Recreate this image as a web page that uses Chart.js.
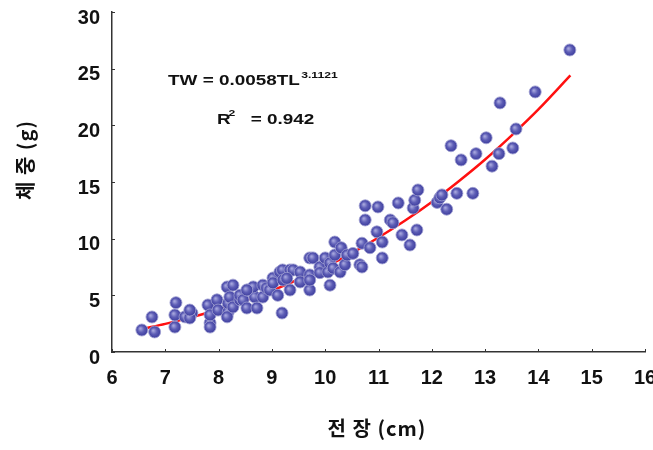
<!DOCTYPE html>
<html>
<head>
<meta charset="utf-8">
<script src="https://cdn.jsdelivr.net/npm/chart.js@4/dist/chart.umd.min.js"></script>
<style>
html,body{margin:0;padding:0;background:#fff;}
#wrap{width:653px;height:450px;position:relative;}
</style>
</head>
<body>
<div id="wrap"><canvas id="c" width="653" height="450"></canvas></div>
<script>
// ---- data ----
const lengthCm = [6.56,6.80,6.75,7.18,7.18,7.20,7.37,7.50,7.46,7.46,7.80,7.84,7.84,7.84,7.97,7.99,8.18,8.16,8.18,8.16,8.27,8.21,8.27,8.40,8.40,8.46,8.55,8.53,8.68,8.72,8.65,8.53,8.83,8.83,8.90,8.96,9.02,9.02,9.11,9.15,9.20,9.21,9.19,9.34,9.34,9.40,9.28,9.53,9.53,9.71,9.71,9.71,9.71,9.77,9.90,9.90,10.00,10.05,10.09,10.09,10.15,10.18,10.18,10.28,10.30,10.37,10.41,10.52,10.65,10.69,10.69,10.75,10.75,10.84,10.97,10.99,11.07,11.07,11.22,11.27,11.37,11.44,11.59,11.65,11.68,11.72,11.74,12.10,12.15,12.19,12.28,12.36,12.47,12.55,12.77,12.83,13.02,13.13,13.26,13.28,13.52,13.58,13.94,14.59];
const weightG  = [1.94,1.77,3.09,2.20,3.27,4.35,3.10,3.44,3.00,3.70,4.15,2.56,3.27,2.20,4.60,3.70,3.53,3.10,4.30,5.74,5.90,4.85,3.97,4.60,5.00,4.60,5.47,3.88,4.85,3.88,5.74,5.47,5.90,4.85,5.65,5.47,6.53,6.10,5.00,7.06,7.24,6.35,3.44,5.47,7.24,7.24,6.50,7.06,6.18,6.80,5.47,8.30,6.35,8.30,7.50,7.00,8.30,7.06,7.85,5.90,7.40,8.56,9.70,7.06,9.20,7.70,8.56,8.70,7.70,9.60,7.50,11.65,12.90,9.20,10.60,12.80,9.70,8.30,11.65,11.40,13.15,10.33,9.44,12.70,13.40,10.77,14.30,13.20,13.60,13.86,12.60,18.20,14.00,16.95,14.00,17.50,18.90,16.40,17.50,21.98,18.00,19.68,22.95,26.65];
const fitLength = [6.6,7.0,7.5,8.0,8.5,9.0,9.5,10.0,10.5,11.0,11.5,12.0,12.5,13.0,13.5,14.0,14.6];
const fitWeight = [2.06,2.48,3.08,3.75,4.53,5.41,6.40,7.51,8.73,10.10,11.60,13.24,15.05,16.99,19.12,21.40,24.40];
const xTicks = [6,7,8,9,10,11,12,13,14,15,16];
const yTicks = [0,5,10,15,20,25,30];
const xTitle = '전 장 (cm)';
const yTitle = '체 중 (g)';
const eqMain = 'TW = 0.0058TL';
const eqExp = '3.1121';
const r2Main = 'R';
const r2Sup = '2';
const r2Value = '= 0.942';

const points = lengthCm.map((x,i)=>({x:x,y:weightG[i]}));
const fitLine = fitLength.map((x,i)=>({x:x,y:fitWeight[i]}));

function pointFill(ctx){
  const chart = ctx.chart;
  const fallback = '#5050a8';
  if(!ctx.parsed || !chart.scales || !chart.scales.x || !chart.scales.y) return fallback;
  const px = chart.scales.x.getPixelForValue(ctx.parsed.x);
  const py = chart.scales.y.getPixelForValue(ctx.parsed.y);
  if(!isFinite(px) || !isFinite(py)) return fallback;
  const g = chart.ctx.createRadialGradient(px-1.5,py-1.5,0.5,px,py,6.5);
  g.addColorStop(0,'#a4a4dc');
  g.addColorStop(0.45,'#5e5eb6');
  g.addColorStop(1,'#38389a');
  return g;
}

const decor = {
  id:'decor',
  beforeDatasetsDraw(chart){
    const c = chart.ctx, xs = chart.scales.x, ys = chart.scales.y;
    c.save();
    c.strokeStyle = '#333';
    c.lineWidth = 1;
    xTicks.forEach(v=>{
      const p = Math.round(xs.getPixelForValue(v))+0.5;
      c.beginPath(); c.moveTo(p, ys.bottom); c.lineTo(p, ys.bottom-3); c.stroke();
    });
    yTicks.forEach(v=>{
      const p = Math.round(ys.getPixelForValue(v))+0.5;
      c.beginPath(); c.moveTo(xs.left, p); c.lineTo(xs.left+3, p); c.stroke();
    });
    c.restore();
  },
  afterDraw(chart){
    const c = chart.ctx;
    c.save();
    c.fillStyle = '#111';
    c.textBaseline = 'alphabetic';
    c.textAlign = 'left';
    c.save();
    c.translate(168, 85);
    c.scale(1.35,1);
    c.font = 'bold 14px "Liberation Sans", Arial, sans-serif';
    c.fillText(eqMain, 0, 0);
    const w = c.measureText(eqMain).width;
    c.font = 'bold 9px "Liberation Sans", Arial, sans-serif';
    c.fillText(eqExp, w+1, -7);
    c.restore();
    c.save();
    c.translate(217, 124);
    c.scale(1.35,1);
    c.font = 'bold 14px "Liberation Sans", Arial, sans-serif';
    c.fillText(r2Main, 0, 0);
    c.font = 'bold 9px "Liberation Sans", Arial, sans-serif';
    c.fillText(r2Sup, 8.5, -8);
    c.font = 'bold 14px "Liberation Sans", Arial, sans-serif';
    c.fillText(r2Value, 25, 0);
    c.restore();
    c.font = 'bold 20px "Noto Sans CJK KR", sans-serif';
    c.textAlign = 'center';
    c.textBaseline = 'middle';
    c.letterSpacing = '1px';
    c.fillText(xTitle, 377, 428);
    c.save();
    c.translate(25, 160);
    c.rotate(-Math.PI/2);
    c.fillText(yTitle, 0, 0);
    c.restore();
    c.restore();
  }
};

new Chart(document.getElementById('c'), {
  type:'scatter',
  data:{
    datasets:[
      {
        type:'line',
        label:'fit',
        data:fitLine,
        borderColor:'#ff1010',
        borderWidth:2.5,
        pointRadius:0,
        fill:false,
        cubicInterpolationMode:'monotone',
        order:2
      },
      {
        label:'obs',
        data:points,
        backgroundColor:pointFill,
        borderColor:'rgba(160,160,210,0.85)',
        borderWidth:1,
        pointRadius:6,
        order:1
      }
    ]
  },
  options:{
    responsive:false,
    animation:false,
    devicePixelRatio:1,
    layout:{padding:{top:12,right:8,left:0,bottom:0}},
    plugins:{legend:{display:false},tooltip:{enabled:false}},
    scales:{
      x:{
        type:'linear', min:6, max:16,
        afterBuildTicks(s){ s.ticks = xTicks.map(v=>({value:v})); },
        grid:{display:false, drawTicks:false},
        border:{display:true,color:'#333',width:1.5,dash:[2,1]},
        ticks:{padding:14,color:'#111',font:{family:'"Liberation Sans", Arial, sans-serif',size:20,weight:'bold'}},
        afterFit(s){ s.height = 98; s.paddingLeft = 0; s.paddingRight = 0; }
      },
      y:{
        type:'linear', min:0, max:30,
        afterBuildTicks(s){ s.ticks = yTicks.map(v=>({value:v})); },
        grid:{display:false, drawTicks:false},
        border:{display:true,color:'#333',width:1.5,dash:[2,1]},
        ticks:{padding:12,labelOffset:6,color:'#111',font:{family:'"Liberation Sans", Arial, sans-serif',size:20,weight:'bold'}},
        afterFit(s){ s.width = 112; s.paddingTop = 0; s.paddingBottom = 0; }
      }
    }
  },
  plugins:[decor]
});
</script>
</body>
</html>
